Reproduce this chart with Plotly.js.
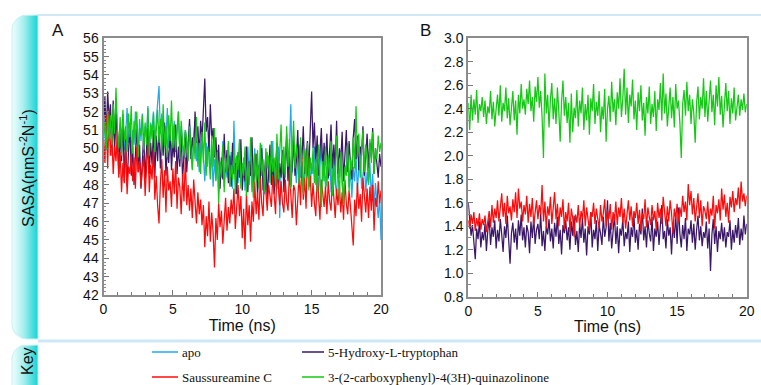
<!DOCTYPE html>
<html>
<head>
<meta charset="utf-8">
<script src="https://cdn.plot.ly/plotly-3.0.1.min.js"></script>
<style>html,body{margin:0;padding:0;background:#fff;}#chart{width:761px;height:385px;}</style>
</head>
<body>
<div id="chart"></div>
<script>
// ---------------- DATA ----------------
const STEP_NS = 0.1;
const seriesNames = ["apo", "5-Hydroxy-L-tryptophan", "Saussureamine C", "3-(2-carboxyphenyl)-4(3H)-quinazolinone"];

// Panel A : SASA, 0-20 ns
const apoA = [50.2,51.5,50.8,52.1,50.4,51.7,49.6,51.2,50.5,52.4,50.9,
49.8,51.3,50.6,51.9,49.9,50.8,52.2,50.3,51.4,49.7,
51.0,50.2,52.0,50.7,49.5,51.6,50.4,51.9,50.1,51.2,
50.6,52.3,49.8,51.4,50.9,52.0,50.2,51.5,52.6,53.4,
50.8,51.9,49.9,51.3,50.5,52.2,50.0,51.1,49.6,50.9,
51.5,49.8,50.7,52.0,49.9,51.2,50.3,49.4,51.0,50.2,
49.6,51.3,50.1,48.9,50.6,51.5,49.3,50.4,48.7,50.0,
51.2,49.5,48.2,50.3,49.0,51.0,48.6,49.8,47.9,49.4,
48.3,49.9,47.6,49.2,48.5,50.4,47.9,49.1,48.4,50.2,
48.7,49.8,47.8,51.5,48.9,49.6,48.1,50.3,49.0,48.2,
49.5,47.7,49.0,50.1,48.3,49.4,47.6,48.8,50.0,48.5,
49.3,47.9,48.7,50.2,49.1,47.5,48.9,49.8,48.2,49.6,
48.4,50.4,47.8,49.2,48.6,50.1,46.2,48.9,49.7,48.0,
49.5,50.8,48.3,49.9,52.4,48.7,50.3,49.0,48.1,49.6,
50.2,48.4,49.3,47.6,48.9,50.0,48.5,49.7,47.9,49.2,
48.6,50.1,48.0,49.4,47.7,48.8,50.3,48.2,49.5,47.8,
49.0,48.3,50.0,47.6,48.9,49.7,48.1,47.5,49.2,48.4,
49.8,48.0,47.4,49.1,48.6,50.2,47.9,48.8,47.3,49.0,
48.2,49.6,47.7,48.9,50.1,47.8,48.5,49.3,47.6,48.7,
48.0,49.2,47.3,48.6,46.8,48.1,47.0,46.2,47.4,45.0];

const hydroxyA = [51.0,52.8,50.6,53.1,51.5,52.4,50.2,52.6,49.8,51.9,50.4,
48.6,50.9,49.3,51.6,48.2,50.5,47.9,49.8,51.2,48.5,
50.1,48.0,49.6,51.3,48.7,50.2,47.8,49.4,50.8,48.3,
49.9,51.5,48.6,50.3,49.1,51.0,48.4,50.7,49.3,51.2,
48.9,50.5,49.6,51.4,48.5,50.0,49.2,51.1,48.8,50.3,
49.5,51.3,48.6,50.1,49.0,50.8,48.3,49.7,50.9,48.7,
50.2,51.6,49.4,50.6,49.9,52.0,50.3,51.2,49.6,51.5,
50.4,52.3,53.8,50.9,51.7,49.8,52.4,50.5,51.1,49.5,
50.6,48.9,50.2,47.8,49.5,48.3,50.8,48.7,49.9,48.1,
49.6,47.9,50.3,48.6,49.2,47.5,49.8,48.4,50.5,47.7,
49.0,48.2,50.1,47.6,49.3,48.5,50.6,47.9,48.8,49.7,
47.4,49.1,48.3,50.0,47.7,48.9,49.6,47.2,48.6,50.2,
48.0,49.4,47.5,48.8,50.3,47.8,49.2,48.4,49.9,47.6,
48.9,50.5,48.2,49.6,47.9,49.0,50.7,48.5,49.3,51.0,
48.7,50.1,49.4,51.2,48.6,49.8,50.4,48.9,50.6,53.1,
50.0,51.4,49.2,50.7,48.5,49.9,51.1,48.8,50.3,49.1,
50.8,48.4,49.7,51.3,48.9,50.2,49.0,51.5,48.6,50.0,
49.3,50.9,48.2,49.8,51.0,48.7,50.4,49.1,48.3,50.6,
51.6,49.4,50.7,48.8,50.1,49.6,51.2,48.5,49.9,50.8,
48.9,50.3,49.5,51.1,48.6,50.0,49.2,48.4,49.7,49.0];

const saussA = [50.5,49.2,51.8,48.9,52.1,49.6,50.8,48.6,50.1,49.3,51.0,
48.4,49.8,47.6,49.2,48.1,50.3,47.5,49.0,48.6,49.7,
48.2,49.5,47.8,50.1,48.7,49.3,47.9,48.8,49.6,47.4,
48.9,50.4,47.6,49.1,48.3,50.0,47.2,48.5,46.9,45.9,
48.1,49.4,47.3,48.8,46.5,49.0,47.7,48.2,46.8,48.9,
47.5,49.3,46.7,48.4,47.9,46.4,48.6,47.1,49.5,46.9,
48.0,46.6,47.8,46.2,48.3,47.0,45.9,47.6,46.4,47.2,
45.8,46.9,44.6,46.3,45.2,47.1,44.9,46.5,45.4,43.5,
46.2,45.0,47.0,45.7,46.6,44.8,46.1,47.3,45.5,46.8,
45.9,47.2,46.4,47.8,45.6,46.9,48.0,46.3,47.4,45.1,
46.7,44.5,47.5,45.8,46.9,44.9,47.1,46.0,48.2,46.4,
47.6,46.1,48.4,47.0,46.3,48.7,47.3,46.6,48.0,47.5,
46.8,48.5,47.2,46.4,48.9,47.6,46.9,48.2,47.0,46.5,
48.3,47.1,46.6,48.8,47.4,46.2,48.0,47.7,45.8,47.3,
48.6,46.9,49.5,47.2,48.4,46.7,49.8,47.9,48.5,46.8,
48.1,47.0,46.3,48.7,47.5,46.1,48.3,47.6,46.8,47.9,
46.4,48.2,47.1,46.6,48.5,47.3,46.2,47.8,46.9,48.0,
46.5,47.6,46.1,48.3,47.0,46.4,47.7,46.8,45.9,44.7,
47.2,46.3,48.1,46.7,47.5,46.0,48.4,47.1,46.5,47.8,
46.2,47.9,46.6,48.0,45.5,47.3,46.8,48.2,47.0,47.7];

const quinA = [50.6,51.4,49.9,52.0,50.5,51.8,50.2,52.4,50.8,53.3,51.1,
50.0,51.7,49.6,52.1,50.4,51.2,49.8,51.9,50.6,52.3,
49.7,51.5,50.3,52.0,49.5,51.1,50.7,51.8,49.9,51.4,
50.2,52.2,49.6,51.3,50.5,51.9,49.8,50.9,52.1,50.3,
51.6,49.7,52.4,50.1,51.2,49.5,51.8,50.4,52.6,50.0,
51.3,49.9,50.8,52.0,49.4,51.5,50.2,49.6,51.0,50.5,
49.3,51.2,50.0,48.8,50.6,49.4,51.7,49.0,50.3,48.6,
50.9,49.2,51.4,48.5,50.1,49.6,48.3,50.7,49.0,51.1,
48.2,49.8,47.0,49.3,48.4,50.2,47.6,49.5,48.7,50.4,
47.9,49.1,48.3,50.0,47.5,49.6,48.8,50.5,47.8,49.2,
48.5,50.1,47.4,49.3,48.0,50.6,48.6,47.3,49.7,48.2,
49.9,47.8,50.3,48.5,49.4,47.6,50.0,48.9,49.6,48.1,
50.4,48.7,49.5,47.9,50.8,48.3,49.8,51.3,48.6,50.1,
48.4,51.2,49.0,50.5,47.8,49.7,51.5,48.9,50.2,49.3,
48.0,50.6,48.8,47.5,49.9,48.4,50.3,47.7,49.5,48.6,
50.0,48.1,49.4,47.6,50.2,48.7,46.8,49.3,48.2,50.1,
47.9,49.6,48.5,50.4,47.4,49.1,48.0,50.7,48.6,47.2,
49.8,48.3,46.9,49.0,48.5,50.3,47.6,49.4,48.8,50.6,
48.9,52.3,49.5,50.8,48.4,49.9,51.0,48.7,50.2,49.3,
48.1,50.5,49.2,50.9,48.6,50.0,49.4,50.7,49.8,50.3];

// Panel B : 0-20 ns
const hydroxyB = [1.60,1.48,1.32,1.41,1.25,1.12,1.38,1.29,1.44,1.22,1.35,
1.28,1.42,1.19,1.36,1.47,1.24,1.39,1.31,1.45,1.21,
1.37,1.27,1.46,1.33,1.18,1.40,1.30,1.49,1.23,1.08,
1.34,1.43,1.26,1.38,1.20,1.45,1.32,1.50,1.28,1.39,
1.22,1.41,1.35,1.17,1.44,1.30,1.48,1.25,1.37,1.42,
1.29,1.51,1.23,1.36,1.19,1.40,1.33,1.46,1.27,1.38,
1.21,1.43,1.31,1.48,1.25,1.37,1.16,1.41,1.34,1.45,
1.28,1.39,1.20,1.44,1.32,1.49,1.24,1.36,1.18,1.42,
1.30,1.47,1.26,1.38,1.15,1.40,1.33,1.52,1.22,1.37,
1.29,1.45,1.19,1.41,1.34,1.24,1.48,1.31,1.39,1.62,
1.27,1.43,1.21,1.36,1.50,1.25,1.40,1.17,1.38,1.32,
1.46,1.23,1.35,1.29,1.44,1.18,1.39,1.31,1.49,1.26,
1.37,1.20,1.42,1.33,1.55,1.28,1.40,1.22,1.45,1.34,
1.27,1.48,1.19,1.38,1.31,1.44,1.24,1.41,1.58,1.29,
1.36,1.21,1.46,1.32,1.39,1.16,1.43,1.30,1.50,1.25,
1.56,1.34,1.22,1.41,1.29,1.47,1.19,1.38,1.33,1.45,
1.26,1.42,1.20,1.37,1.49,1.28,1.40,1.23,1.35,1.30,
1.44,1.21,1.38,1.02,1.33,1.46,1.25,1.40,1.18,1.36,
1.29,1.43,1.27,1.39,1.22,1.35,1.31,1.45,1.20,1.37,
1.26,1.41,1.30,1.47,1.24,1.38,1.28,1.49,1.33,1.42];

const saussB = [1.45,1.38,1.50,1.42,1.52,1.36,1.47,1.40,1.51,1.37,1.46,
1.41,1.49,1.35,1.44,1.53,1.39,1.58,1.43,1.55,1.47,
1.62,1.44,1.56,1.68,1.48,1.60,1.42,1.66,1.51,1.57,
1.45,1.63,1.52,1.69,1.47,1.72,1.55,1.61,1.44,1.58,
1.50,1.66,1.43,1.59,1.48,1.64,1.41,1.55,1.62,1.46,
1.58,1.50,1.75,1.44,1.61,1.38,1.57,1.49,1.65,1.42,
1.54,1.69,1.46,1.59,1.40,1.56,1.48,1.63,1.37,1.52,
1.44,1.60,1.35,1.55,1.47,1.31,1.50,1.43,1.58,1.39,
1.53,1.46,1.62,1.40,1.56,1.45,1.36,1.52,1.48,1.60,
1.42,1.55,1.47,1.38,1.58,1.44,1.51,1.63,1.40,1.54,
1.46,1.59,1.37,1.52,1.45,1.61,1.41,1.56,1.48,1.64,
1.43,1.55,1.38,1.50,1.62,1.45,1.57,1.40,1.53,1.47,
1.60,1.42,1.54,1.36,1.51,1.46,1.63,1.39,1.56,1.48,
1.41,1.58,1.45,1.53,1.37,1.60,1.47,1.55,1.42,1.65,
1.49,1.40,1.57,1.44,1.62,1.51,1.34,1.55,1.46,1.59,
1.43,1.56,1.48,1.66,1.52,1.61,1.45,1.76,1.58,1.70,
1.50,1.64,1.44,1.59,1.68,1.47,1.62,1.40,1.57,1.53,
1.46,1.61,1.42,1.55,1.49,1.66,1.38,1.58,1.51,1.63,
1.45,1.72,1.54,1.67,1.48,1.60,1.43,1.65,1.56,1.70,
1.52,1.64,1.58,1.73,1.55,1.78,1.61,1.68,1.57,1.66];

const quinB = [2.45,2.22,2.52,2.30,2.48,2.35,2.56,2.28,2.44,2.38,2.50,
2.33,2.47,2.27,2.42,2.36,2.55,2.31,2.46,2.25,2.40,
2.52,2.34,2.60,2.29,2.45,2.38,2.58,2.32,2.49,2.26,
2.43,2.55,2.30,2.47,2.18,2.52,2.36,2.61,2.40,2.48,
2.35,2.57,2.44,2.64,2.38,2.50,2.29,2.59,2.46,2.67,
2.41,2.55,2.33,1.98,2.70,2.36,2.52,2.24,2.48,2.62,
2.31,2.49,2.27,2.58,2.38,2.12,2.46,2.64,2.34,2.50,
2.28,2.45,2.11,2.53,2.20,2.41,2.32,2.56,2.25,2.47,
2.36,2.58,2.22,2.44,2.30,2.52,2.18,2.49,2.38,2.61,
2.27,2.46,2.34,2.55,2.20,2.42,2.31,2.57,2.12,2.40,
2.51,2.29,2.63,2.37,2.48,2.26,2.54,2.40,2.66,2.33,
2.49,2.74,2.35,2.58,2.28,2.52,2.42,2.65,2.31,2.47,
2.22,2.54,2.38,2.60,2.30,2.45,2.17,2.50,2.36,2.59,
2.27,2.44,2.33,2.55,2.21,2.48,2.39,2.62,2.30,2.70,
2.36,2.53,2.25,2.46,2.58,2.32,2.50,2.24,2.61,2.40,
2.47,2.28,1.98,2.44,2.56,2.34,2.63,2.38,2.52,2.27,
2.48,2.36,2.11,2.45,2.59,2.31,2.50,2.40,2.66,2.33,
2.55,2.29,2.47,2.64,2.37,2.52,2.26,2.60,2.42,2.67,
2.35,2.51,2.24,2.46,2.62,2.38,2.55,2.27,2.49,2.36,
2.58,2.30,2.45,2.52,2.34,2.48,2.39,2.53,2.37,2.44];

const xTicksLabels = ["0","5","10","15","20"];

// ---------------- STYLE / LAYOUT ----------------
const W = 761, H = 385;
const px = v => v / W, py = v => 1 - v / H;
const seriesColors = ["#22a8f0", "#3a1768", "#ff0a0a", "#14c814"];
const time = apoA.map((_, i) => +(i * STEP_NS).toFixed(1));
const sans = "Liberation Sans, Arial, sans-serif";
const serif = "Liberation Serif, Times New Roman, serif";

function line(y, idx, xa, ya) {
  return {x: time, y: y, type: "scatter", mode: "lines", name: seriesNames[idx],
    line: {color: seriesColors[idx], width: 1.25}, xaxis: xa, yaxis: ya,
    showlegend: false, hoverinfo: "skip"};
}

// rounded tab outline (decoration)
function tabPath(x0, x1, y0, y1, rTop, rBot) {
  const xs = [], ys = [];
  xs.push(x1); ys.push(y0);
  for (let k = 0; k <= 12; k++) { const a = -Math.PI/2 - k*Math.PI/24;
    xs.push(x0 + rTop + rTop*Math.cos(a)); ys.push(y0 + rTop + rTop*Math.sin(a)); }
  for (let k = 0; k <= 12; k++) { const a = Math.PI + k*Math.PI/24;
    xs.push(x0 + rBot + rBot*Math.cos(a)); ys.push(y1 - rBot - rBot*Math.sin(a)); }
  xs.push(x1); ys.push(y1); xs.push(x1); ys.push(y0);
  return {xs, ys};
}
const grad = {type: "horizontal", start: 12, stop: 38,
  colorscale: [[0, "#f2fdfd"], [0.45, "#a6efef"], [1, "#14d3d3"]]};
const t1 = tabPath(12, 38, 15, 339, 15, 15);
const t2 = tabPath(12, 38, 345, 392, 14, 0.01);
function tab(t) {
  return {x: t.xs, y: t.ys, type: "scatter", mode: "lines", fill: "toself",
    fillgradient: grad, line: {color: "#c4f2f2", width: 1}, xaxis: "x3", yaxis: "y3",
    showlegend: false, hoverinfo: "skip"};
}

const traces = [
  tab(t1), tab(t2),
  line(apoA, 0, "x", "y"),
  line(hydroxyA, 1, "x", "y"),
  line(saussA, 2, "x", "y"),
  line(quinA, 3, "x", "y"),
  line(hydroxyB, 1, "x2", "y2"),
  line(saussB, 2, "x2", "y2"),
  line(quinB, 3, "x2", "y2")
];

const frame = {showline: true, mirror: true, linecolor: "#8c8c8c", linewidth: 2,
  showgrid: false, zeroline: false, ticks: "inside", ticklen: 5, tickwidth: 1,
  tickcolor: "#777", tickfont: {family: sans, size: 14, color: "#111"}, fixedrange: true};

const xCommon = Object.assign({}, frame, {range: [0, 20], tickmode: "array",
  tickvals: xTicksLabels.map(Number), ticktext: xTicksLabels,
  minor: {dtick: 1, ticks: "inside", ticklen: 3, tickcolor: "#777"},
  title: {text: "Time (ns)", font: {family: sans, size: 16, color: "#111"}, standoff: 3}});

// Key (legend) drawn as line samples + labels: [col x of line start, row y]
const keySlots = [[152, 352], [302, 352], [152, 377], [302, 377]];
const keyOrder = [0, 1, 2, 3];
const keyShapes = keyOrder.map((s, k) => ({type: "line", xref: "paper", yref: "paper",
  x0: px(keySlots[k][0]), x1: px(keySlots[k][0] + (k % 2 ? 22 : 26)),
  y0: py(keySlots[k][1]), y1: py(keySlots[k][1]),
  line: {color: seriesColors[s], width: 1.5}}));
const keyLabels = keyOrder.map((s, k) => ({text: seriesNames[s], xref: "paper", yref: "paper",
  x: px(keySlots[k][0] + (k % 2 ? 24 : 28)), y: py(keySlots[k][1]), xanchor: "left", yanchor: "middle",
  showarrow: false, font: {family: serif, size: 13, color: "#111"}}));

function note(text, x, y, size, angle) {
  return {text: text, xref: "paper", yref: "paper", x: px(x), y: py(y), xanchor: "center", yanchor: "middle",
    showarrow: false, textangle: angle || 0, font: {family: sans, size: size, color: "#111"}};
}

const layout = {
  width: W, height: H, margin: {l: 0, r: 0, t: 0, b: 0, autoexpand: false},
  paper_bgcolor: "#ffffff", plot_bgcolor: "rgba(0,0,0,0)", showlegend: false,
  xaxis: Object.assign({}, xCommon, {domain: [px(103.5), px(381)], anchor: "y"}),
  yaxis: Object.assign({}, frame, {domain: [py(295), py(38.3)], range: [42, 56], dtick: 1, tick0: 42,
    minor: {dtick: 0.2, ticks: "inside", ticklen: 2, tickcolor: "#888"}, anchor: "x"}),
  xaxis2: Object.assign({}, xCommon, {domain: [px(468.3), px(746.7)], anchor: "y2"}),
  yaxis2: Object.assign({}, frame, {domain: [py(296.7), py(38.3)], range: [0.8, 3.0], dtick: 0.2, tick0: 0.8,
    tickformat: ".1f", minor: {dtick: 0.1, ticks: "inside", ticklen: 3, tickcolor: "#888"}, anchor: "x2"}),
  xaxis3: {domain: [0, 1], range: [0, W], visible: false, fixedrange: true, anchor: "y3"},
  yaxis3: {domain: [0, 1], range: [H, 0], visible: false, fixedrange: true, anchor: "x3"},
  shapes: [
    {type: "line", xref: "paper", yref: "paper", x0: px(38), x1: 1, y0: py(15), y1: py(15),
      line: {color: "#cfe8f6", width: 2}},
    {type: "line", xref: "paper", yref: "paper", x0: px(38), x1: 1, y0: py(341), y1: py(341),
      line: {color: "#cfe8f6", width: 3}}
  ].concat(keyShapes),
  annotations: [
    note("SASA(nmS<sup>-2</sup>N<sup>-1</sup>)", 27, 168, 16, -90),
    note("Key", 27, 361, 16, -90),
    note("A", 58, 30, 17),
    note("B", 425, 30, 17)
  ].concat(keyLabels)
};

Plotly.newPlot("chart", traces, layout, {staticPlot: true, displayModeBar: false});
</script>
</body>
</html>
